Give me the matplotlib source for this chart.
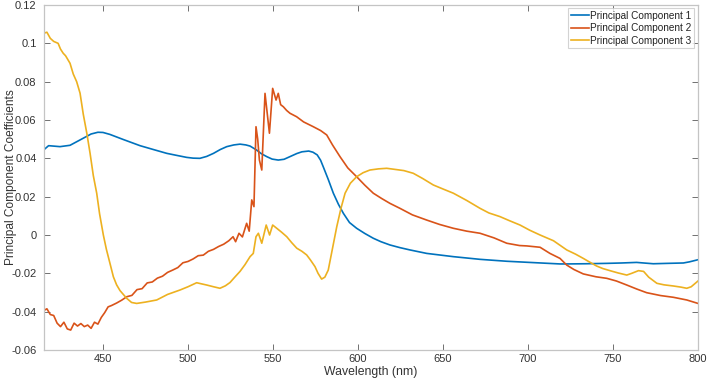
import matplotlib
matplotlib.use("Agg")
import matplotlib.pyplot as plt

plt.rcParams['font.family'] = ['Liberation Sans', 'DejaVu Sans']

# Principal Component 1
wl1 = [415, 418, 424.7, 430.6, 438.4, 443, 447, 450, 454, 462, 471.8, 480, 487.5, 493,
       499.2, 503, 507, 511, 515, 519, 522.8, 527, 530.6, 534, 536.5, 540.4, 543, 546.3,
       549.5, 553.1, 556.5, 560, 564, 567, 571, 573.5, 576, 578, 579.6, 582.5, 585.5,
       588.5, 591.4, 595, 599.2, 604, 609, 613.5, 618.8, 624.7, 630.6, 640.4, 656.1,
       671.8, 687.5, 703.1, 718.8, 722.8, 734, 746.3, 755, 763.9, 768, 773.7, 782,
       791.4, 795, 800]
pc1 = [0.0443, 0.0466, 0.0461, 0.0468, 0.0505, 0.0527, 0.0536, 0.0535, 0.0525, 0.0498,
       0.0466, 0.0445, 0.0426, 0.0416, 0.0405, 0.0401, 0.0400, 0.0410, 0.0426, 0.0446,
       0.0461, 0.0470, 0.0474, 0.0470, 0.0464, 0.0443, 0.0425, 0.0409, 0.0396, 0.0391,
       0.0395, 0.0409, 0.0425, 0.0434, 0.0438, 0.0432, 0.0418, 0.0390, 0.0355, 0.0290,
       0.0218, 0.0160, 0.0113, 0.0065, 0.0035, 0.0008, -0.0017, -0.0035, -0.0052,
       -0.0066, -0.0078, -0.0096, -0.0113, -0.0127, -0.0137, -0.0144, -0.0151, -0.0151,
       -0.0150, -0.0148, -0.0146, -0.0143, -0.0146, -0.0150, -0.0148, -0.0146, -0.0140,
       -0.0129]

# Principal Component 2
wl2 = [415, 417, 419, 421, 423, 425, 427, 429, 431, 433, 435, 437, 439, 441, 443, 445,
       447, 449, 451, 453, 455, 458, 461, 464, 467, 470, 473, 476, 479, 482, 485, 488,
       491, 494, 497, 500, 503, 506, 509, 512, 515, 518, 521, 524, 526.5, 528, 530, 532,
       534.5, 536, 537.5, 538.8, 540, 541, 542, 543.4, 545.3, 547.9, 549.8, 551.8,
       553.1, 554.5, 556.1, 558, 560, 563.9, 568, 573.7, 578, 581.6, 585, 589.4, 594,
       599.2, 604, 609, 614, 618.8, 624.7, 632, 640.4, 648, 656.1, 664, 671.8, 680,
       687.5, 695, 699.3, 707.1, 712.9, 718.8, 722.8, 727, 732.5, 740, 746.3, 752,
       758.1, 764, 769.8, 778, 785.5, 793.4, 800]
pc2 = [-0.0395, -0.0385, -0.0415, -0.0420, -0.0460, -0.0478, -0.0455, -0.0490, -0.0496,
       -0.0460, -0.0475, -0.0462, -0.0478, -0.0470, -0.0487, -0.0455, -0.0465, -0.0430,
       -0.0405, -0.0375, -0.0368, -0.0355, -0.0340, -0.0322, -0.0315, -0.0285, -0.0280,
       -0.0250, -0.0245, -0.0225, -0.0215, -0.0195, -0.0183, -0.0170, -0.0145, -0.0138,
       -0.0125, -0.0108, -0.0105, -0.0085, -0.0075, -0.0060, -0.0048, -0.0030, -0.0009,
       -0.0035, 0.0009, -0.0010, 0.0061, 0.0020, 0.0183, 0.0148, 0.0565, 0.0500, 0.0391,
       0.0339, 0.0739, 0.0531, 0.0765, 0.0704, 0.0739, 0.0680, 0.0669, 0.0650, 0.0635,
       0.0617, 0.0590, 0.0565, 0.0545, 0.0522, 0.0470, 0.0409, 0.0350, 0.0304, 0.0260,
       0.0218, 0.0190, 0.0165, 0.0139, 0.0105, 0.0078, 0.0055, 0.0035, 0.0020, 0.0009,
       -0.0015, -0.0043, -0.0055, -0.0057, -0.0064, -0.0096, -0.0122, -0.0157, -0.0180,
       -0.0203, -0.0218, -0.0226, -0.0240, -0.0261, -0.0282, -0.0301, -0.0316, -0.0325,
       -0.0339, -0.0357]

# Principal Component 3
wl3 = [415, 417, 419, 421, 423.6, 425, 426.6, 428, 430.6, 432.5, 434.5, 436.5, 438.4,
       440.5, 442.4, 444.3, 446.3, 448, 450.2, 452, 454.1, 456.1, 458, 460, 463.9, 466.8,
       469.8, 475, 481.6, 488, 495.3, 500, 505.1, 508, 511, 515, 518.8, 522, 524.7, 527.5,
       530.6, 533.5, 536.5, 538.4, 540, 541.4, 543.4, 546, 548, 549.8, 552.2, 555, 558.1,
       561, 564, 567, 569.8, 572, 574.7, 576.5, 578.6, 580.5, 582.5, 585, 587.5, 590,
       592.4, 595.5, 599.2, 603, 607, 612, 616.9, 622, 627, 632.5, 638, 644.3, 650, 656.1,
       664, 671.8, 677, 683.5, 689, 695.3, 701, 707.1, 715, 722.8, 728, 732.5, 736,
       740.4, 744, 748.2, 753, 758.1, 761, 765, 768, 771, 775.8, 780, 785.5, 790, 793.4,
       796, 800]
pc3 = [0.1052, 0.1058, 0.1026, 0.1010, 0.1000, 0.0970, 0.0948, 0.0935, 0.0896, 0.0840,
       0.0800, 0.0740, 0.0630, 0.0530, 0.0426, 0.0310, 0.0218, 0.0110, 0.0000, -0.0075,
       -0.0148, -0.0218, -0.0260, -0.0290, -0.0330, -0.0352, -0.0357, -0.0350, -0.0339,
       -0.0310, -0.0287, -0.0270, -0.0249, -0.0255, -0.0261, -0.0270, -0.0278, -0.0265,
       -0.0248, -0.0220, -0.0190, -0.0155, -0.0113, -0.0096, -0.0009, 0.0009, -0.0043,
       0.0052, 0.0000, 0.0052, 0.0035, 0.0015, -0.0009, -0.0040, -0.0069, -0.0085,
       -0.0104, -0.0130, -0.0165, -0.0200, -0.0230, -0.0220, -0.0183, -0.0070, 0.0043,
       0.0140, 0.0218, 0.0270, 0.0304, 0.0325, 0.0339, 0.0345, 0.0348, 0.0342, 0.0336,
       0.0322, 0.0295, 0.0261, 0.0240, 0.0218, 0.0180, 0.0139, 0.0115, 0.0096, 0.0075,
       0.0052, 0.0025, 0.0000, -0.0030, -0.0078, -0.0100, -0.0122, -0.0140, -0.0162,
       -0.0175, -0.0186, -0.0198, -0.0209, -0.0200, -0.0186, -0.0190, -0.0220, -0.0252,
       -0.0260, -0.0266, -0.0272, -0.0278, -0.0270, -0.0240]

labels = ["Principal Component 1", "Principal Component 2", "Principal Component 3"]
colors = ["#0072BD", "#D95319", "#EDB120"]
xticks = [450, 500, 550, 600, 650, 700, 750, 800]
yticks = [-0.06, -0.04, -0.02, 0, 0.02, 0.04, 0.06, 0.08, 0.1, 0.12]
yticklabels = ["-0.06", "-0.04", "-0.02", "0", "0.02", "0.04", "0.06", "0.08", "0.1", "0.12"]

fig = plt.figure(figsize=(7.09, 3.85), dpi=100)
ax = fig.add_axes([43.5 / 709, 35 / 385, 654.5 / 709, 345 / 385])

for wl, pc, lab, col in zip([wl1, wl2, wl3], [pc1, pc2, pc3], labels, colors):
    ax.plot(wl, pc, color=col, lw=1.2, label=lab)

ax.set_xlim(415, 800)
ax.set_ylim(-0.06, 0.12)
ax.set_xticks(xticks)
ax.set_yticks(yticks)
ax.set_yticklabels(yticklabels)

for s in ax.spines.values():
    s.set_color("#c4c4c4")
    s.set_linewidth(0.9)
ax.tick_params(direction="in", length=4, width=0.7, color="#707070",
               labelcolor="#333333", labelsize=8, top=True, right=True)
ax.tick_params(axis="y", pad=5)
ax.tick_params(axis="x", pad=3)

ax.set_xlabel("Wavelength (nm)", fontsize=8.8, color="#333333", labelpad=1)
ax.set_ylabel("Principal Component Coefficients", fontsize=8.6, color="#333333")
ax.yaxis.set_label_coords(-0.041, 0.5)

leg = ax.legend(loc="upper right", bbox_to_anchor=(0.994, 0.991), borderaxespad=0,
                fontsize=7.2, frameon=True, fancybox=False, handlelength=1.8,
                handletextpad=0.15, labelspacing=0.25, borderpad=0.25)
leg.get_frame().set_edgecolor("#c8c8c8")
leg.get_frame().set_linewidth(0.8)
for t in leg.get_texts():
    t.set_color("#222222")

fig.savefig("out.png", dpi=100)
